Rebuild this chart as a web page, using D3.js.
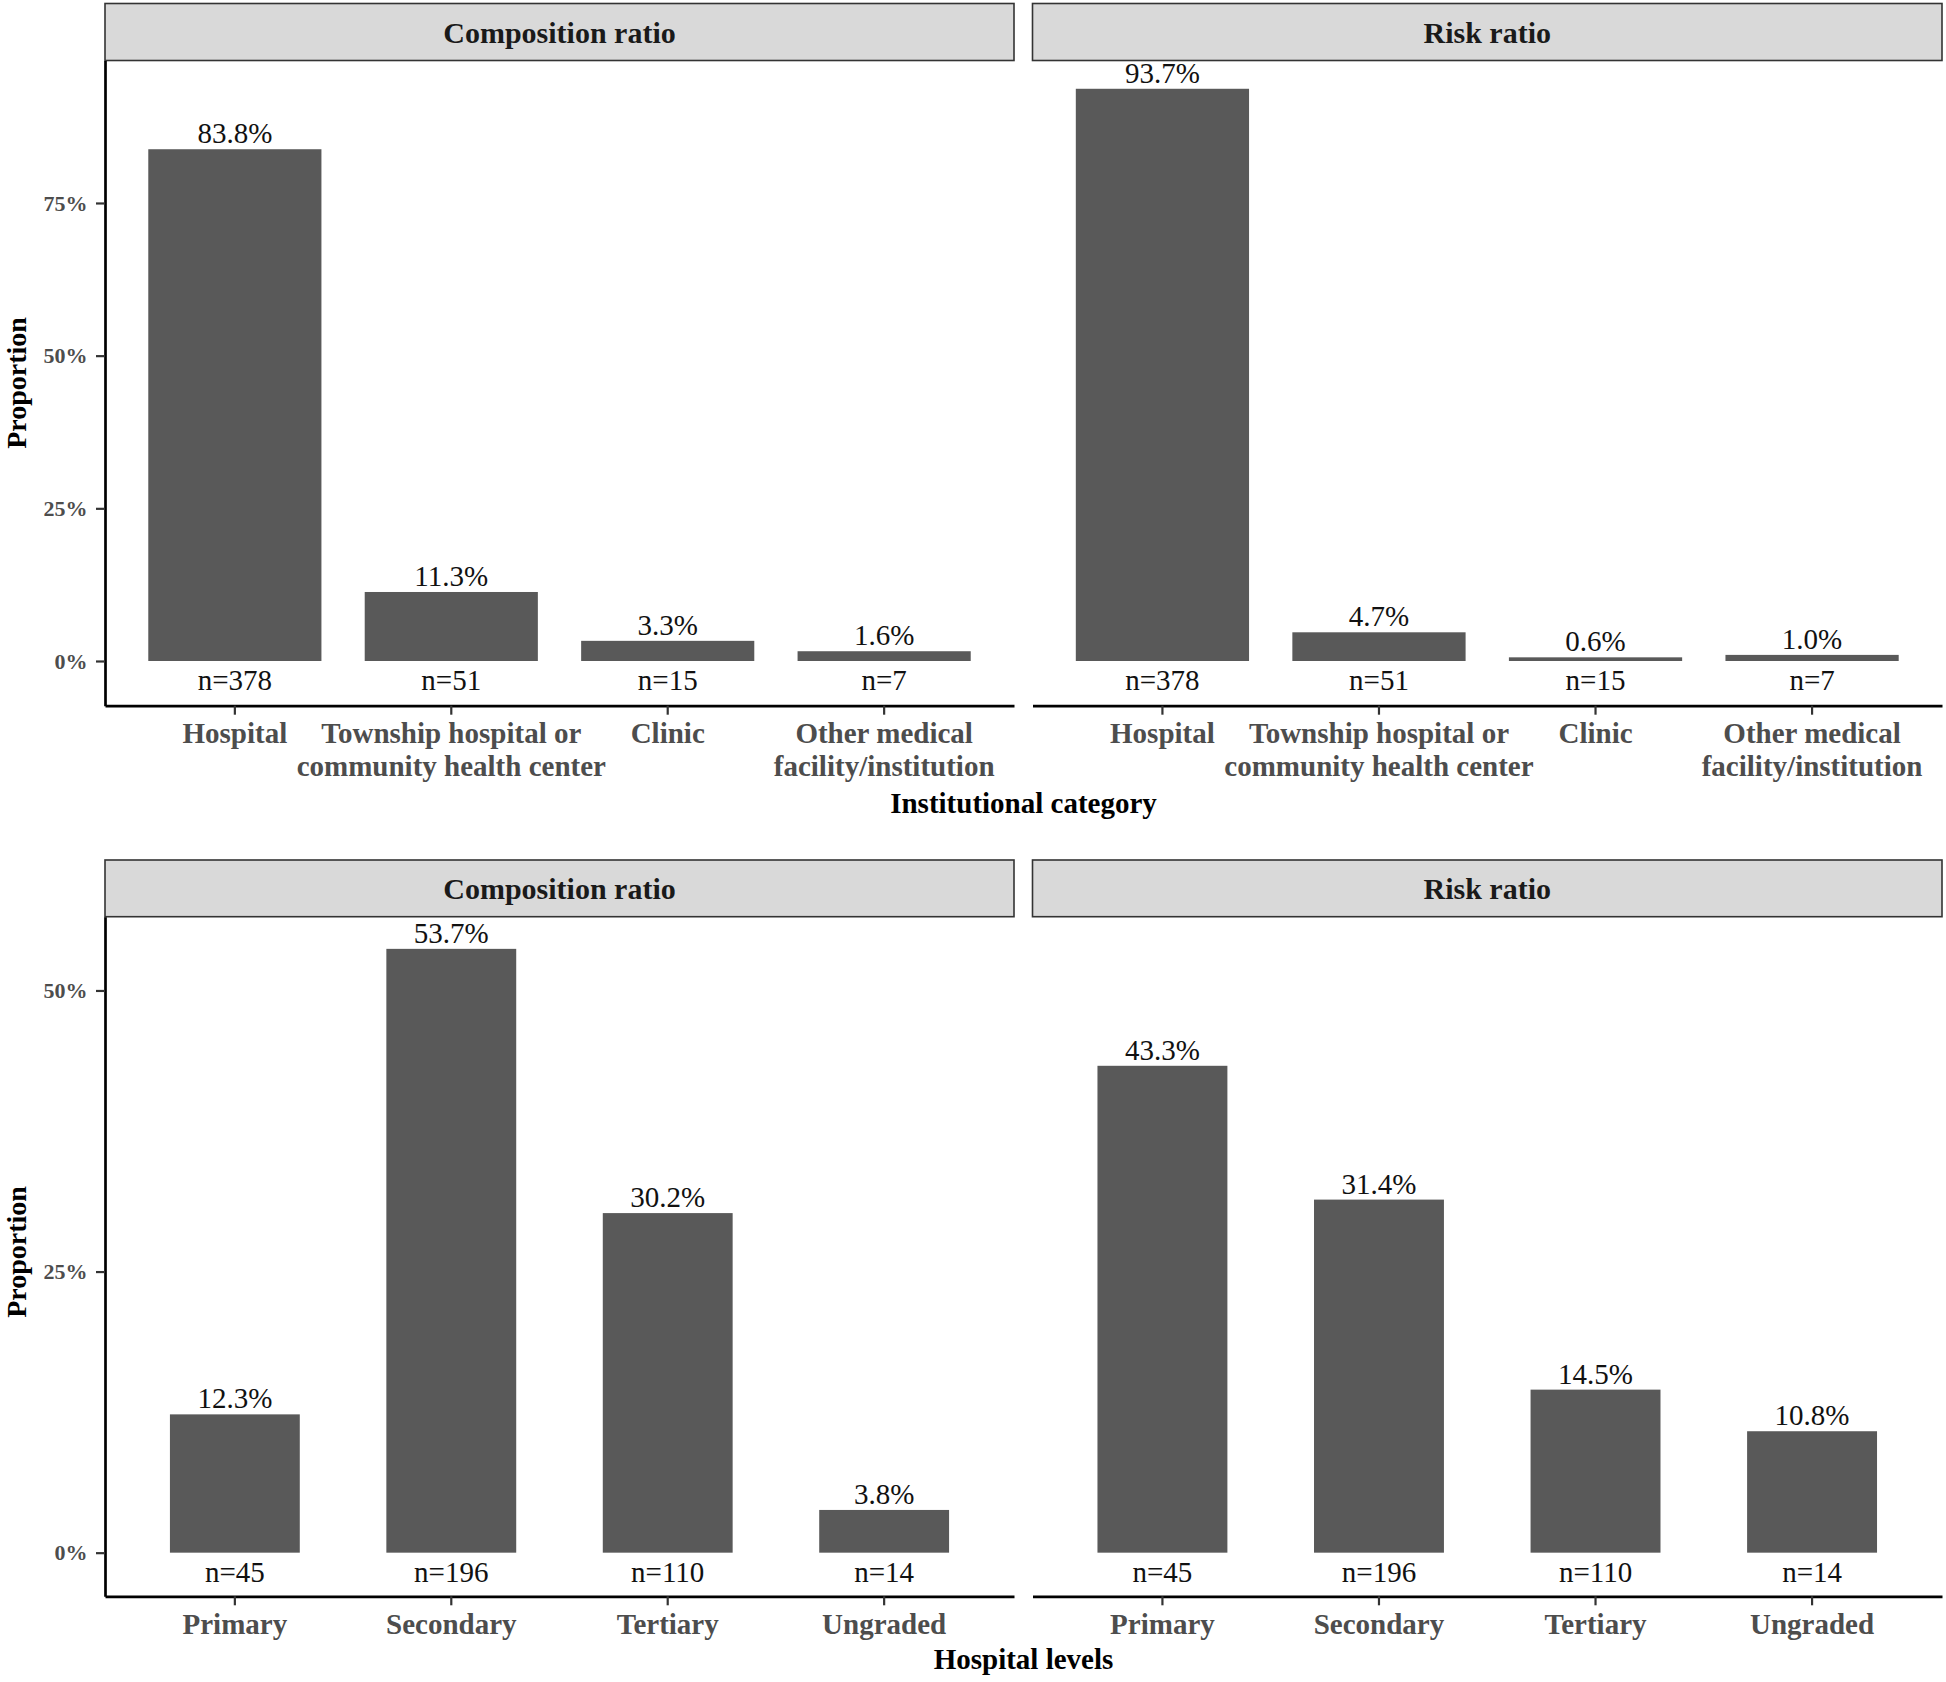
<!DOCTYPE html>
<html>
<head>
<meta charset="utf-8">
<script src="https://cdn.jsdelivr.net/npm/d3@7"></script>
<style>
  html, body { margin: 0; padding: 0; background: #ffffff; }
  svg { display: block; }
  text { font-family: "Liberation Serif", "Times New Roman", serif; }
</style>
</head>
<body>
<script>
// ---------- data ----------
const facets = ["Composition ratio", "Risk ratio"];

const categoriesTop = ["Hospital", "Township hospital or\ncommunity health center", "Clinic", "Other medical\nfacility/institution"];
const compositionTop = [83.8, 11.3, 3.3, 1.6];
const riskTop = [93.7, 4.7, 0.6, 1.0];
const countsTop = [378, 51, 15, 7];
const yTicksTop = [0, 25, 50, 75];
const xTitleTop = "Institutional category";

const categoriesBottom = ["Primary", "Secondary", "Tertiary", "Ungraded"];
const compositionBottom = [12.3, 53.7, 30.2, 3.8];
const riskBottom = [43.3, 31.4, 14.5, 10.8];
const countsBottom = [45, 196, 110, 14];
const yTicksBottom = [0, 25, 50];
const xTitleBottom = "Hospital levels";

const yTitle = "Proportion";

// ---------- layout ----------
const W = 1946, H = 1682;
const svg = d3.select("body").append("svg").attr("width", W).attr("height", H);

const panelsX = [[105, 1014], [1032.5, 1942]];
const rows = [
  {
    cats: categoriesTop, series: [compositionTop, riskTop], counts: countsTop,
    yTicks: yTicksTop, xTitle: xTitleTop,
    stripTop: 3.5, stripBottom: 60.5, axisY: 705.7,
    yDomain: [-7.32, 98.33], barWidth: 0.8, xTitleY: 813, yTitleY: 383
  },
  {
    cats: categoriesBottom, series: [compositionBottom, riskBottom], counts: countsBottom,
    yTicks: yTicksBottom, xTitle: xTitleBottom,
    stripTop: 860, stripBottom: 916.7, axisY: 1596.3,
    yDomain: [-3.88, 56.56], barWidth: 0.6, xTitleY: 1669, yTitleY: 1252
  }
];

const BAR = "#595959";
const GREY_TXT = "#4D4D4D";

rows.forEach(row => {
  const y = d3.scaleLinear().domain(row.yDomain).range([row.axisY, row.stripBottom]);

  row.series.forEach((vals, pi) => {
    const [x0, x1] = panelsX[pi];
    const inner = 1 - row.barWidth;
    const outer = 0.6 - row.barWidth / 2;
    const x = d3.scaleBand().domain(row.cats).range([x0, x1])
      .paddingInner(inner).paddingOuter(outer);

    const g = svg.append("g");

    // strip
    g.append("rect")
      .attr("x", x0).attr("y", row.stripTop)
      .attr("width", x1 - x0).attr("height", row.stripBottom - row.stripTop)
      .attr("fill", "#D9D9D9").attr("stroke", "#333333").attr("stroke-width", 1.6);
    g.append("text")
      .attr("x", (x0 + x1) / 2).attr("y", (row.stripTop + row.stripBottom) / 2 + 10.5)
      .attr("text-anchor", "middle")
      .attr("font-size", 30).attr("font-weight", "bold").attr("fill", "#1a1a1a")
      .text(facets[pi]);

    const data = row.cats.map((c, i) => ({ cat: c, v: vals[i], n: row.counts[i] }));

    // bars
    g.selectAll("rect.bar").data(data).join("rect")
      .attr("class", "bar")
      .attr("x", d => x(d.cat)).attr("width", x.bandwidth())
      .attr("y", d => y(d.v)).attr("height", d => y(0) - y(d.v))
      .attr("fill", BAR);

    // value labels
    g.selectAll("text.val").data(data).join("text")
      .attr("class", "val")
      .attr("x", d => x(d.cat) + x.bandwidth() / 2)
      .attr("y", d => y(d.v) - 6)
      .attr("text-anchor", "middle").attr("font-size", 29).attr("fill", "#111")
      .text(d => d.v.toFixed(1) + "%");

    // n labels
    g.selectAll("text.nlab").data(data).join("text")
      .attr("class", "nlab")
      .attr("x", d => x(d.cat) + x.bandwidth() / 2)
      .attr("y", y(0) + 29)
      .attr("text-anchor", "middle").attr("font-size", 29).attr("fill", "#111")
      .text(d => "n=" + d.n);

    // x axis
    const xa = g.append("g").attr("transform", `translate(0,${row.axisY})`)
      .call(d3.axisBottom(x).tickSize(9).tickSizeOuter(0).tickFormat(""));
    xa.select(".domain").attr("stroke", "#000").attr("stroke-width", 2.7);
    xa.selectAll(".tick line").attr("stroke", "#333").attr("stroke-width", 2.2);
    xa.selectAll(".tick text").each(function (d) {
      const t = d3.select(this);
      t.attr("y", 0).attr("dy", null)
        .attr("font-size", 29).attr("font-weight", "bold").attr("fill", GREY_TXT)
        .attr("font-family", '"Liberation Serif", "Times New Roman", serif');
      d.split("\n").forEach((line, li) => {
        t.append("tspan").attr("x", 0).attr("y", 37.5 + li * 33).text(line);
      });
    });

    // y axis only on left panel
    if (pi === 0) {
      const ya = g.append("g").attr("transform", `translate(${x0},0)`)
        .call(d3.axisLeft(y).tickValues(row.yTicks).tickSize(9).tickSizeOuter(0)
          .tickPadding(8.5).tickFormat(d => d + "%"));
      ya.select(".domain").attr("stroke", "#000").attr("stroke-width", 2.7);
      ya.selectAll(".tick line").attr("stroke", "#333").attr("stroke-width", 2.2);
      ya.selectAll(".tick text")
        .attr("font-size", 22).attr("font-weight", "bold").attr("fill", GREY_TXT)
        .attr("font-family", '"Liberation Serif", "Times New Roman", serif');
    }
  });

  // axis titles
  svg.append("text")
    .attr("x", (panelsX[0][0] + panelsX[1][1]) / 2).attr("y", row.xTitleY)
    .attr("text-anchor", "middle").attr("font-size", 29).attr("font-weight", "bold").attr("fill", "#000")
    .text(row.xTitle);
  svg.append("text")
    .attr("transform", `translate(25.5,${row.yTitleY}) rotate(-90)`)
    .attr("text-anchor", "middle").attr("font-size", 28).attr("font-weight", "bold").attr("fill", "#000")
    .text(yTitle);
});
</script>
</body>
</html>
